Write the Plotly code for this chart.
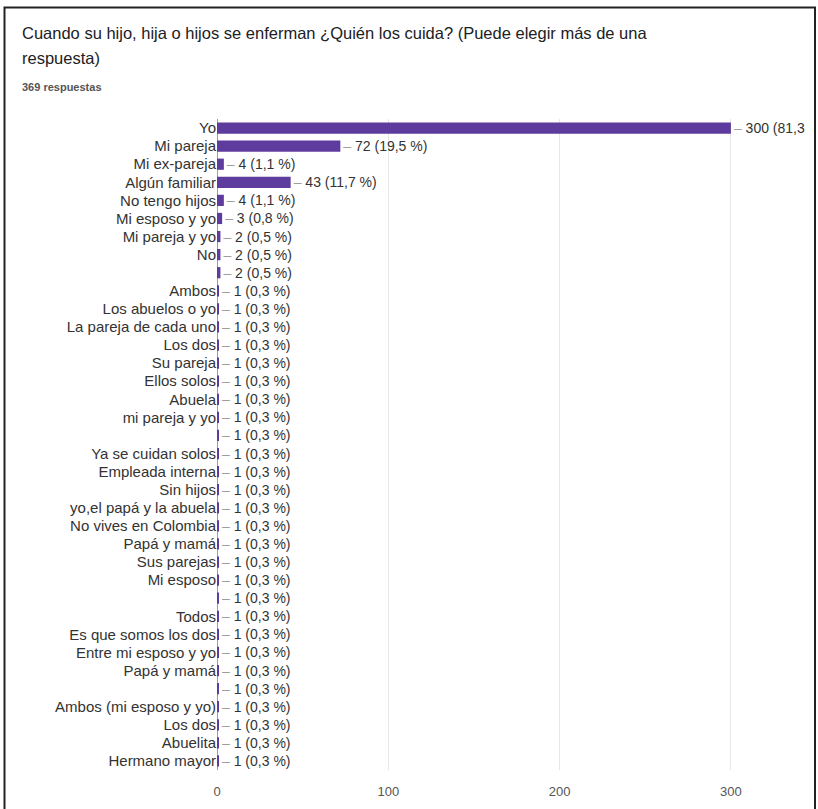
import plotly.graph_objects as go

# Survey: who looks after the children when they get sick (multiple answers allowed)
total_respuestas = 369

respuestas = [
    "Yo", "Mi pareja", "Mi ex-pareja", "Algún familiar", "No tengo hijos",
    "Mi esposo y yo", "Mi pareja y yo", "No", "", "Ambos",
    "Los abuelos o yo", "La pareja de cada uno", "Los dos", "Su pareja",
    "Ellos solos", "Abuela", "mi pareja y yo", "", "Ya se cuidan solos",
    "Empleada interna", "Sin hijos", "yo,el papá y la abuela",
    "No vives en Colombia", "Papá y mamá", "Sus parejas", "Mi esposo", "",
    "Todos", "Es que somos los dos", "Entre mi esposo y yo", "Papá y mamá", "",
    "Ambos (mi esposo y yo)", "Los dos", "Abuelita", "Hermano mayor",
]

conteos = [
    300, 72, 4, 43, 4,
    3, 2, 2, 2, 1,
    1, 1, 1, 1,
    1, 1, 1, 1, 1,
    1, 1, 1,
    1, 1, 1, 1, 1,
    1, 1, 1, 1, 1,
    1, 1, 1, 1,
]

x_ticks = [0, 100, 200, 300]

posiciones = list(range(len(respuestas)))


def etiqueta(n):
    pct = f"{n / total_respuestas * 100:.1f}".replace(".", ",")
    return f'<span style="color:#9e9e9e">– </span>{n} ({pct} %)'


FONT = "Arial, Liberation Sans, sans-serif"
PURPLE = "#5e3c9e"

fig = go.Figure(
    go.Bar(
        x=conteos,
        y=posiciones,
        orientation="h",
        marker=dict(color=PURPLE, line=dict(width=0)),
        text=[etiqueta(n) for n in conteos],
        textposition="outside",
        constraintext="none",
        cliponaxis=True,
        textfont=dict(family=FONT, size=14, color="#333333"),
        hoverinfo="skip",
    )
)

L, R, T, B = 217, 808, 119, 781
W, H = 818, 809

fig.update_layout(
    width=W,
    height=H,
    margin=dict(l=L, r=W - R, t=T, b=H - B, pad=0),
    paper_bgcolor="white",
    plot_bgcolor="white",
    showlegend=False,
    bargap=0.38,
    font=dict(family=FONT, color="#333333"),
    xaxis=dict(
        range=[0, 345],
        tickvals=x_ticks,
        ticktext=[str(v) for v in x_ticks],
        showgrid=True,
        gridcolor="#e6e6e6",
        gridwidth=1,
        zeroline=True,
        zerolinecolor="#9e9e9e",
        zerolinewidth=1,
        showline=False,
        ticks="outside",
        ticklen=9,
        tickcolor="rgba(0,0,0,0)",
        tickfont=dict(family=FONT, size=13, color="#555555"),
        fixedrange=True,
    ),
    yaxis=dict(
        range=[len(respuestas) - 0.5, -0.5],
        tickvals=posiciones,
        ticktext=respuestas,
        showgrid=False,
        zeroline=False,
        showline=False,
        ticks="",
        tickfont=dict(family=FONT, size=15, color="#333333"),
        fixedrange=True,
    ),
)

# Question text and response count
pw, ph = R - L, B - T


def px_x(x):
    return (x - L) / pw


def px_y(y):
    return (B - y) / ph


fig.add_annotation(
    text="Cuando su hijo, hija o hijos se enferman ¿Quién los cuida? (Puede elegir más de una",
    xref="paper", yref="paper", x=px_x(20), y=px_y(32),
    xanchor="left", yanchor="middle", showarrow=False,
    font=dict(family=FONT, size=16.5, color="#202124"),
)
fig.add_annotation(
    text="respuesta)",
    xref="paper", yref="paper", x=px_x(20), y=px_y(57),
    xanchor="left", yanchor="middle", showarrow=False,
    font=dict(family=FONT, size=16.5, color="#202124"),
)
fig.add_annotation(
    text=f"<b>{total_respuestas} respuestas</b>",
    xref="paper", yref="paper", x=px_x(20), y=px_y(86),
    xanchor="left", yanchor="middle", showarrow=False,
    font=dict(family=FONT, size=11, color="#555555"),
)

# Frame around the card (open at the bottom edge of the page)
fig.add_shape(
    type="path", xref="paper", yref="paper",
    path=(
        f"M {px_x(4.5)},{px_y(900)} L {px_x(4.5)},{px_y(5.5)} "
        f"L {px_x(815)},{px_y(5.5)} L {px_x(815)},{px_y(900)}"
    ),
    line=dict(color="#222222", width=2),
    layer="above",
)

fig.write_html("out.html")
